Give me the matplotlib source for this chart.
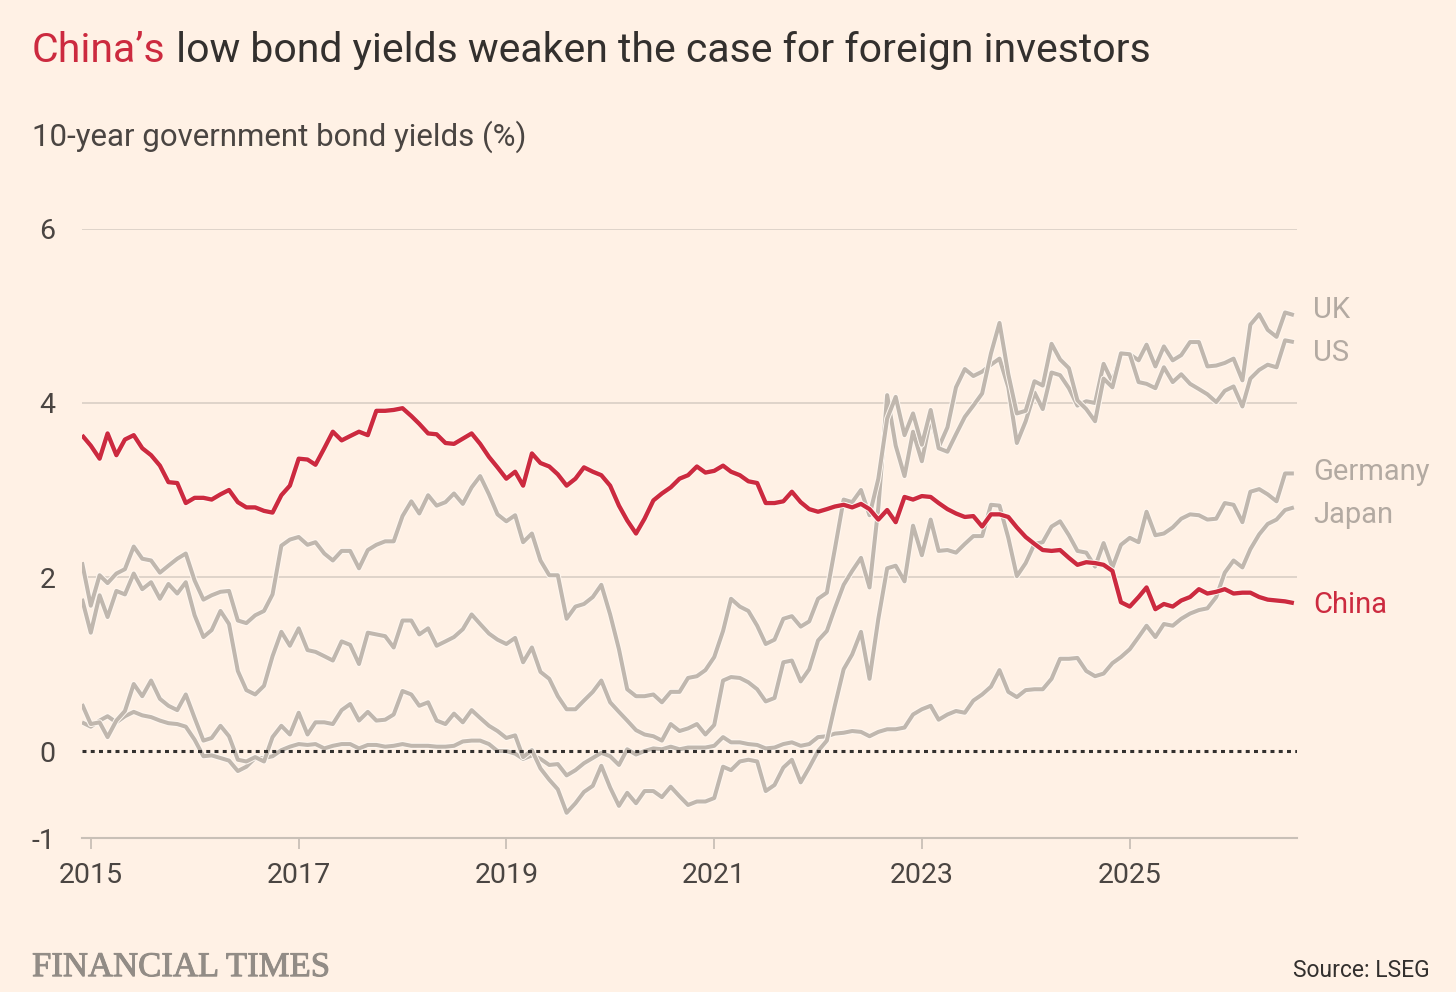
import matplotlib
matplotlib.use('agg')
import matplotlib.pyplot as plt
import matplotlib.patheffects as pe
import matplotlib.transforms as mtrans
import pandas as pd

plt.rcParams['font.family'] = ['Roboto', 'DejaVu Sans']

# monthly 10-year yields, Dec 2014 .. Aug 2026
months = pd.date_range('2014-12-01', periods=141, freq='MS')

china = [3.63,
         3.51, 3.36, 3.65, 3.40, 3.58, 3.63, 3.48, 3.40, 3.28, 3.09, 3.08, 2.85,
         2.91, 2.91, 2.89, 2.95, 3.00, 2.86, 2.80, 2.80, 2.76, 2.74, 2.94, 3.05,
         3.36, 3.35, 3.29, 3.48, 3.67, 3.57, 3.62, 3.67, 3.63, 3.91, 3.91, 3.92,
         3.94, 3.85, 3.76, 3.65, 3.64, 3.54, 3.53, 3.59, 3.65, 3.53, 3.38, 3.26,
         3.13, 3.21, 3.05, 3.42, 3.31, 3.27, 3.18, 3.05, 3.13, 3.26, 3.21, 3.17,
         3.05, 2.82, 2.65, 2.50, 2.67, 2.88, 2.96, 3.03, 3.13, 3.17, 3.27, 3.20,
         3.22, 3.28, 3.21, 3.17, 3.10, 3.08, 2.85, 2.85, 2.87, 2.98, 2.86, 2.78,
         2.75, 2.78, 2.81, 2.83, 2.80, 2.84, 2.78, 2.66, 2.77, 2.63, 2.92, 2.89,
         2.93, 2.92, 2.85, 2.78, 2.73, 2.69, 2.70, 2.58, 2.72, 2.72, 2.69, 2.57,
         2.46, 2.38, 2.31, 2.30, 2.31, 2.22, 2.14, 2.17, 2.16, 2.14, 2.07, 1.71,
         1.66, 1.77, 1.88, 1.63, 1.69, 1.66, 1.73, 1.77, 1.86, 1.81, 1.83, 1.86,
         1.81, 1.82, 1.82, 1.77, 1.74, 1.73, 1.72, 1.70]

us = [2.17,
      1.67, 2.02, 1.93, 2.04, 2.09, 2.35, 2.21, 2.19, 2.05, 2.13, 2.21, 2.27,
      1.96, 1.74, 1.79, 1.83, 1.84, 1.50, 1.47, 1.56, 1.61, 1.80, 2.36, 2.43,
      2.46, 2.37, 2.40, 2.27, 2.19, 2.30, 2.30, 2.10, 2.31, 2.37, 2.41, 2.41,
      2.70, 2.87, 2.73, 2.94, 2.82, 2.86, 2.96, 2.84, 3.03, 3.16, 2.95, 2.72,
      2.64, 2.71, 2.40, 2.50, 2.19, 2.02, 2.02, 1.52, 1.66, 1.69, 1.77, 1.91,
      1.57, 1.17, 0.71, 0.63, 0.63, 0.65, 0.56, 0.68, 0.68, 0.84, 0.86, 0.93,
      1.08, 1.38, 1.75, 1.66, 1.61, 1.44, 1.23, 1.28, 1.52, 1.55, 1.43, 1.49,
      1.75, 1.82, 2.32, 2.89, 2.86, 3.00, 2.71, 3.13, 3.82, 4.07, 3.63, 3.88,
      3.52, 3.92, 3.48, 3.44, 3.64, 3.84, 3.97, 4.11, 4.57, 4.92, 4.33, 3.88,
      3.91, 4.25, 4.20, 4.68, 4.50, 4.40, 4.03, 3.93, 3.79, 4.28, 4.18, 4.57,
      4.56, 4.24, 4.22, 4.17, 4.41, 4.24, 4.33, 4.22, 4.16, 4.10, 4.01, 4.14,
      4.19, 3.96, 4.28, 4.38, 4.44, 4.41, 4.72, 4.70]

uk = [1.75,
      1.36, 1.79, 1.54, 1.84, 1.80, 2.04, 1.86, 1.94, 1.75, 1.92, 1.81, 1.94,
      1.56, 1.31, 1.39, 1.61, 1.46, 0.92, 0.70, 0.65, 0.75, 1.09, 1.37, 1.21,
      1.41, 1.16, 1.14, 1.09, 1.04, 1.26, 1.22, 1.00, 1.36, 1.34, 1.32, 1.19,
      1.50, 1.50, 1.34, 1.41, 1.21, 1.26, 1.31, 1.40, 1.57, 1.46, 1.35, 1.28,
      1.23, 1.30, 1.02, 1.19, 0.91, 0.83, 0.63, 0.48, 0.48, 0.58, 0.68, 0.81,
      0.56, 0.45, 0.35, 0.24, 0.19, 0.17, 0.12, 0.31, 0.23, 0.26, 0.31, 0.19,
      0.30, 0.81, 0.85, 0.84, 0.79, 0.71, 0.57, 0.61, 1.02, 1.04, 0.80, 0.94,
      1.27, 1.38, 1.64, 1.91, 2.07, 2.22, 1.88, 2.80, 4.09, 3.51, 3.16, 3.67,
      3.33, 3.83, 3.49, 3.72, 4.18, 4.39, 4.31, 4.36, 4.44, 4.51, 4.18, 3.54,
      3.79, 4.12, 3.93, 4.35, 4.32, 4.17, 3.97, 4.02, 4.00, 4.45, 4.24, 4.57,
      4.56, 4.49, 4.67, 4.42, 4.65, 4.49, 4.55, 4.70, 4.70, 4.42, 4.43, 4.46,
      4.51, 4.26, 4.90, 5.02, 4.84, 4.76, 5.04, 5.01]

germany = [0.54,
           0.31, 0.33, 0.16, 0.35, 0.46, 0.77, 0.63, 0.81, 0.60, 0.52, 0.47, 0.65,
           0.38, 0.12, 0.15, 0.29, 0.17, -0.10, -0.12, -0.07, -0.12, 0.16, 0.29, 0.19,
           0.44, 0.19, 0.33, 0.33, 0.31, 0.47, 0.54, 0.35, 0.45, 0.35, 0.36, 0.42,
           0.69, 0.65, 0.52, 0.56, 0.35, 0.31, 0.43, 0.33, 0.47, 0.38, 0.29, 0.23,
           0.15, 0.18, -0.07, 0.01, -0.20, -0.33, -0.44, -0.71, -0.60, -0.47, -0.40, -0.17,
           -0.42, -0.63, -0.48, -0.60, -0.46, -0.46, -0.53, -0.41, -0.52, -0.62, -0.58, -0.58,
           -0.54, -0.18, -0.22, -0.12, -0.10, -0.12, -0.46, -0.39, -0.19, -0.10, -0.36, -0.19,
           0.00, 0.12, 0.52, 0.94, 1.11, 1.37, 0.83, 1.52, 2.10, 2.13, 1.95, 2.59,
           2.25, 2.66, 2.30, 2.31, 2.28, 2.38, 2.47, 2.47, 2.83, 2.82, 2.45, 2.01,
           2.16, 2.38, 2.40, 2.58, 2.64, 2.48, 2.30, 2.28, 2.12, 2.39, 2.11, 2.37,
           2.45, 2.40, 2.75, 2.48, 2.50, 2.57, 2.67, 2.72, 2.71, 2.66, 2.67, 2.85,
           2.83, 2.63, 2.98, 3.01, 2.95, 2.87, 3.19, 3.19]

japan = [0.33,
         0.28, 0.35, 0.40, 0.33, 0.40, 0.45, 0.41, 0.39, 0.35, 0.32, 0.31, 0.28,
         0.13, -0.06, -0.05, -0.08, -0.11, -0.23, -0.18, -0.08, -0.08, -0.06, 0.01, 0.05,
         0.08, 0.07, 0.08, 0.03, 0.06, 0.08, 0.08, 0.03, 0.07, 0.07, 0.05, 0.06,
         0.08, 0.06, 0.06, 0.06, 0.05, 0.05, 0.06, 0.11, 0.12, 0.12, 0.08, 0.00,
         0.00, -0.03, -0.09, -0.05, -0.09, -0.16, -0.15, -0.28, -0.22, -0.14, -0.08, -0.02,
         -0.06, -0.16, 0.02, -0.04, 0.00, 0.03, 0.02, 0.05, 0.02, 0.04, 0.04, 0.04,
         0.06, 0.16, 0.10, 0.10, 0.08, 0.07, 0.03, 0.04, 0.08, 0.10, 0.06, 0.08,
         0.16, 0.17, 0.20, 0.21, 0.23, 0.22, 0.17, 0.22, 0.25, 0.25, 0.27, 0.42,
         0.48, 0.52, 0.36, 0.42, 0.46, 0.44, 0.58, 0.65, 0.74, 0.93, 0.68, 0.62,
         0.70, 0.71, 0.71, 0.83, 1.06, 1.06, 1.07, 0.92, 0.86, 0.89, 1.01, 1.08,
         1.17, 1.31, 1.44, 1.31, 1.46, 1.44, 1.52, 1.58, 1.62, 1.64, 1.77, 2.05,
         2.19, 2.11, 2.32, 2.49, 2.61, 2.66, 2.77, 2.80]

tick_years = [2015, 2017, 2019, 2021, 2023, 2025]
y_ticks = [-1, 0, 2, 4, 6]

BG = '#fff1e5'
RED = '#cc2a3f'
GREY = '#c0b7ae'
GREY_TXT = '#b3aaa2'
INK = '#33302e'

fig = plt.figure(figsize=(14.56, 9.92), dpi=100, facecolor=BG)
ax = fig.add_axes([0.0563, 0.1552, 0.8345, 0.614])
ax.set_facecolor(BG)

for v in [2, 4, 6]:
    ax.axhline(v, color='#d9cfc5', lw=1.2, zorder=1)

halo = lambda w: [pe.Stroke(linewidth=w + 1.4, foreground='#fff8f1'), pe.Normal()]

for vals in [japan, germany, uk, us]:
    ax.plot(months, vals, color=GREY, lw=2.9, zorder=2,
            solid_joinstyle='round', solid_capstyle='butt', path_effects=halo(2.9))

ax.axhline(0, color=INK, lw=2.2, ls=(0, (1.3, 1.4)), dash_capstyle='butt', zorder=3)

ax.plot(months, china, color=RED, lw=3.1, zorder=4,
        solid_joinstyle='round', solid_capstyle='butt', path_effects=halo(3.1))

ax.set_xlim(months[0], pd.Timestamp('2026-08-12'))
ax.set_ylim(-1, 6)

for s in ['top', 'right', 'left']:
    ax.spines[s].set_visible(False)
ax.spines['bottom'].set_color('#c9c0b7')
ax.spines['bottom'].set_linewidth(1.5)

ax.set_xticks([pd.Timestamp(f'{y}-01-01') for y in tick_years])
ax.set_xticklabels([str(y) for y in tick_years])
ax.set_yticks(y_ticks)
ax.set_yticklabels([str(v) for v in y_ticks])
ax.tick_params(axis='x', length=8, width=1.3, color='#c9c0b7', pad=9,
               labelsize=20.5, labelcolor='#4a4542')
ax.tick_params(axis='y', length=0, pad=19, labelsize=20.5, labelcolor='#4a4542')

# right-hand series labels
label_y = {'UK': 5.07, 'US': 4.57, 'Germany': 3.21, 'Japan': 2.71, 'China': 1.68}
trans = mtrans.blended_transform_factory(ax.transAxes, ax.transData)
for name, yv in label_y.items():
    ax.text(1.0135, yv, name, transform=trans, va='center', ha='left',
            fontsize=21, color=RED if name == 'China' else GREY_TXT)

# title in two colours
t1 = fig.text(0.022, 0.9375, 'China\u2019s', fontsize=29.5, color=RED, va='baseline')
fig.canvas.draw()
bb = t1.get_window_extent()
fig.text(bb.x1 / fig.bbox.width, 0.9375, ' low bond yields weaken the case for foreign investors',
         fontsize=29.5, color=INK, va='baseline')

fig.text(0.022, 0.853, '10-year government bond yields (%)', fontsize=22.5,
         color='#4a4542', va='baseline')

fig.text(0.022, 0.016, 'FINANCIAL TIMES', fontsize=25, color='#928c86',
         family='Liberation Serif', va='baseline',
         path_effects=[pe.withStroke(linewidth=0.7, foreground='#928c86')])
fig.text(0.982, 0.0151, 'Source: LSEG', fontsize=16.5, color=INK, ha='right', va='baseline')

fig.savefig('out.png', dpi=100, facecolor=BG)
